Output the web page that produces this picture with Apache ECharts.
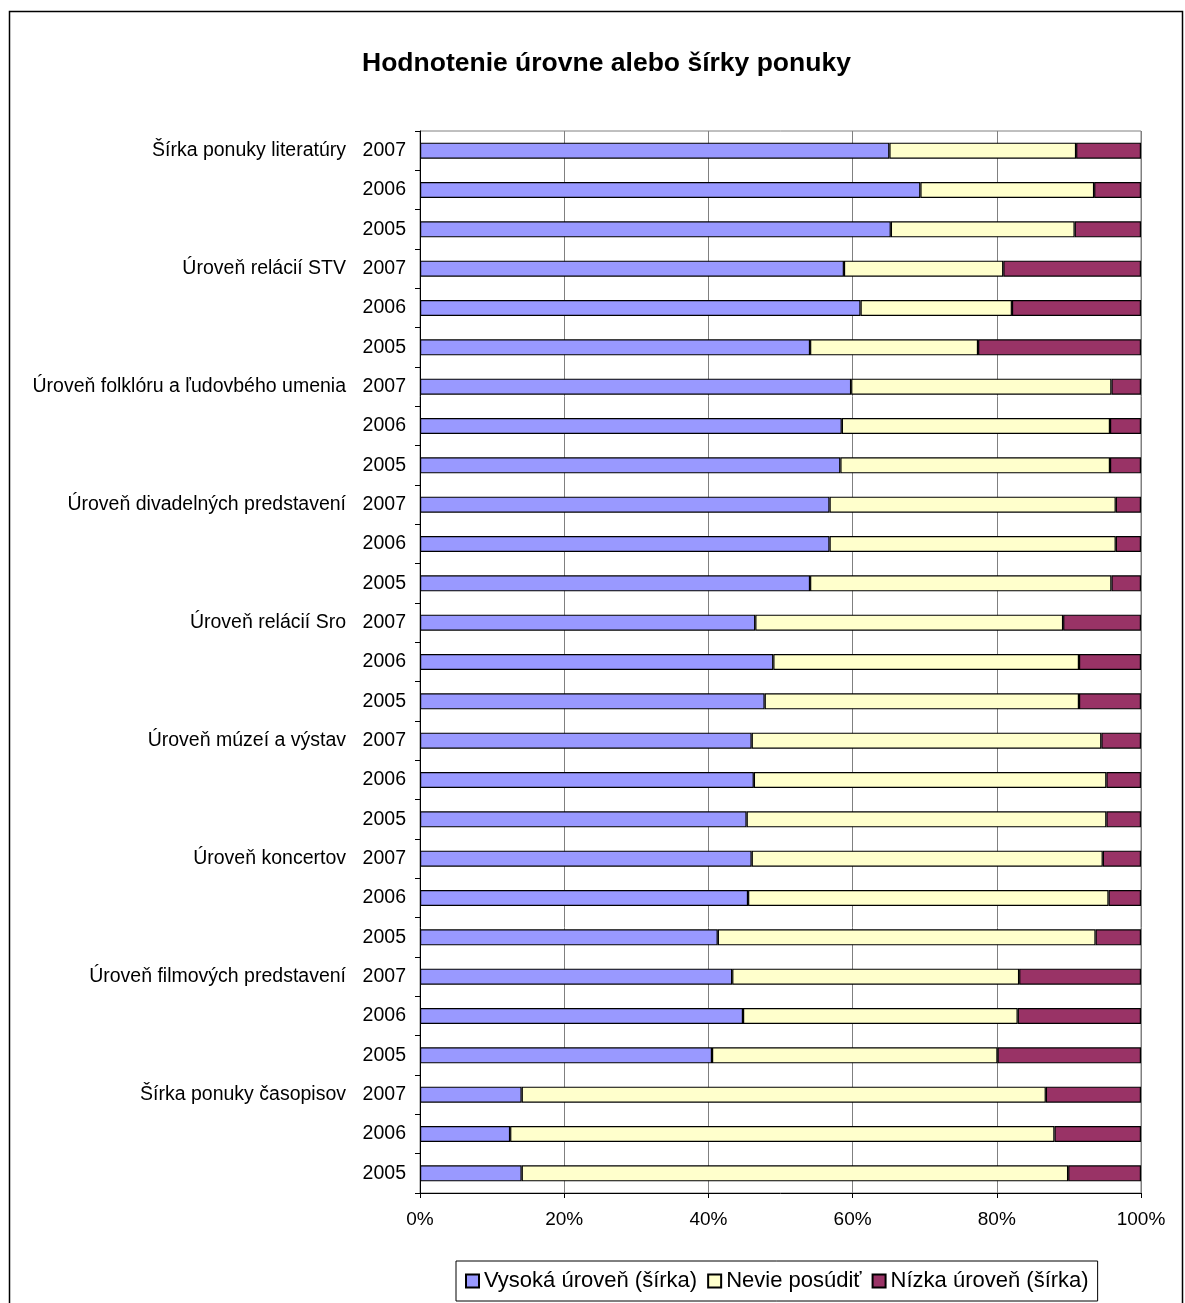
<!DOCTYPE html>
<html>
<head>
<meta charset="utf-8">
<script src="https://cdn.jsdelivr.net/npm/echarts@6/dist/echarts.min.js"></script>
<style>
  html, body { margin: 0; padding: 0; background: #fff; }
  #chart { width: 1185px; height: 1303px; }
</style>
</head>
<body>
<div id="chart"></div>
<script>
// skupiny (zhora nadol), kazda ma tri roky
var groups = [
  'Šírka ponuky literatúry',
  'Úroveň relácií STV',
  'Úroveň folklóru a ľudovbého umenia',
  'Úroveň divadelných predstavení',
  'Úroveň relácií Sro',
  'Úroveň múzeí a výstav',
  'Úroveň koncertov',
  'Úroveň filmových predstavení',
  'Šírka ponuky časopisov'
]
var years = ['2007', '2006', '2005']

// hodnoty v %, poradie riadkov: skupina x rok
var vysoka = [
  65.1, 69.4, 65.3,
  58.8, 61.1, 54.1,
  59.8, 58.5, 58.3,
  56.8, 56.8, 54.1,
  46.5, 49.0, 47.8,
  46.0, 46.3, 45.3,
  46.0, 45.5, 41.3,
  43.3, 44.8, 40.5,
  14.1, 12.5, 14.1
]
var nevie = [
  25.9, 24.1, 25.5,
  22.1, 21.0, 23.3,
  36.1, 37.2, 37.4,
  39.7, 39.7, 41.8,
  42.7, 42.4, 43.6,
  48.5, 48.9, 49.9,
  48.7, 50.0, 52.4,
  39.8, 38.1, 39.6,
  72.7, 75.5, 75.8
]
var nizka = [
  9.0, 6.5, 9.2,
  19.1, 17.9, 22.6,
  4.1, 4.3, 4.3,
  3.5, 3.5, 4.1,
  10.8, 8.6, 8.6,
  5.5, 4.8, 4.8,
  5.3, 4.5, 6.3,
  16.9, 17.1, 19.9,
  13.2, 12.0, 10.1
]
var seriesNames = ['Vysoká úroveň (šírka)', 'Nevie posúdiť', 'Nízka úroveň (šírka)']
var xTicks = [0, 20, 40, 60, 80, 100]

var categories = []
groups.forEach(function (g) {
  years.forEach(function (y) {
    categories.push(g + ' ' + y)
  })
})

var font = 'Liberation Sans, Arial, sans-serif'
var chart = echarts.init(document.getElementById('chart'))

function bar(name, data, color) {
  return {
    name: name,
    type: 'bar',
    stack: 'total',
    barWidth: 16,
    data: data,
    itemStyle: { color: color, borderColor: '#000', borderWidth: 1.2 }
  }
}

var option = {
  animation: false,
  backgroundColor: '#fff',
  title: {
    text: 'Hodnotenie úrovne alebo šírky ponuky',
    left: 357,
    top: 45,
    textStyle: { fontFamily: font, fontSize: 26.5, fontWeight: 'bold', color: '#000' }
  },
  graphic: [{
    type: 'rect',
    shape: { x: 9.5, y: 11.5, width: 1173, height: 1310 },
    style: { fill: 'none', stroke: '#000', lineWidth: 1.5 }
  }],
  legend: {
    left: 456,
    top: 1261,
    padding: [9, 9, 9, 9],
    itemGap: 10,
    itemWidth: 13,
    itemHeight: 13,
    borderColor: '#000',
    borderWidth: 1,
    icon: 'rect',
    textStyle: { fontFamily: font, fontSize: 22, color: '#000' },
    data: seriesNames
  },
  grid: {
    left: 420,
    right: 44,
    top: 131,
    bottom: 110,
    show: true,
    borderColor: '#808080',
    borderWidth: 1
  },
  xAxis: {
    type: 'value',
    min: xTicks[0],
    max: xTicks[xTicks.length - 1],
    interval: 20,
    axisLine: { show: true, lineStyle: { color: '#000' } },
    axisTick: { show: true, length: 5, lineStyle: { color: '#000' } },
    splitLine: { lineStyle: { color: '#808080', width: 1 } },
    axisLabel: {
      margin: 17,
      fontFamily: font,
      fontSize: 19,
      color: '#000',
      formatter: '{value}%'
    }
  },
  yAxis: {
    type: 'category',
    inverse: true,
    data: categories,
    axisLine: { show: true, lineStyle: { color: '#000' } },
    axisTick: { show: true, length: 5, lineStyle: { color: '#000' } },
    axisLabel: {
      margin: 14,
      interval: 0,
      formatter: function (value, index) {
        var g = index % 3 === 0 ? groups[Math.floor(index / 3)] : ''
        var y = years[index % 3]
        return (g ? '{g|' + g + '}' : '') + '{y|' + y + '}'
      },
      rich: {
        g: { fontFamily: font, fontSize: 19.5, color: '#000' },
        y: { fontFamily: font, fontSize: 19.5, color: '#000', width: 60, align: 'right' }
      }
    }
  },
  series: [
    bar(seriesNames[0], vysoka, '#9999FF'),
    bar(seriesNames[1], nevie, '#FFFFCC'),
    bar(seriesNames[2], nizka, '#993366')
  ]
}

chart.setOption(option)
window.onresize = function () {
  chart.resize()
}
</script>
</body>
</html>
